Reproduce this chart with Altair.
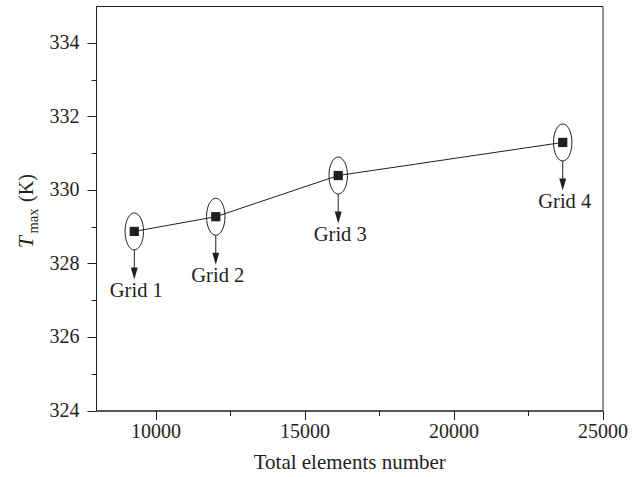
import altair as alt
import pandas as pd

# ---- data ----
elements = [9285, 12020, 16130, 23665]
tmax = [328.87, 329.27, 330.39, 331.29]
grid_labels = ["Grid 1", "Grid 2", "Grid 3", "Grid 4"]

x_ticks = [10000, 12500, 15000, 17500, 20000, 22500, 25000]
y_ticks = [324, 325, 326, 327, 328, 329, 330, 331, 332, 333, 334]

ytitle_parts = ["T", "max", "(K)"]

df = pd.DataFrame({"n": elements, "t": tmax, "label": grid_labels})

FONT = "Liberation Serif"
INK = "#231f20"

xscale = alt.Scale(domain=[8000, 25000], nice=False, zero=False)
yscale = alt.Scale(domain=[324, 335], nice=False, zero=False)

xaxis = alt.Axis(
    values=x_ticks, format="d", grid=False, title="Total elements number",
    labelExpr="datum.value % 5000 === 0 ? datum.label : ''",
    tickSize={"condition": {"test": "datum.value % 5000 === 0", "value": 9}, "value": 5},
    labelFlush=False, labelOverlap=False, labelPadding=2, titlePadding=10,
)
yaxis = alt.Axis(
    values=y_ticks, format="d", grid=False, title=None,
    labelExpr="datum.value % 2 === 0 ? datum.label : ''",
    tickSize={"condition": {"test": "datum.value % 2 === 0", "value": 9}, "value": 5},
    labelOverlap=False, labelPadding=8,
)

base = alt.Chart(df).encode(
    x=alt.X("n:Q", scale=xscale, axis=xaxis),
    y=alt.Y("t:Q", scale=yscale, axis=yaxis),
)

line = base.mark_line(color=INK, strokeWidth=1)
squares = base.mark_point(shape="square", filled=True, size=85, color=INK, opacity=1)
ellipse = base.mark_point(
    shape="M0,-1 A0.5,1 0 1,1 0,1 A0.5,1 0 1,1 0,-1 Z",
    size=1369, filled=False, color=INK, strokeWidth=1, opacity=1,
)
arrow_shaft = base.mark_rule(color=INK, strokeWidth=1, yOffset=18.5, y2Offset=37).encode(y2="t:Q")
arrow_head = base.mark_point(
    shape="M-0.58,-1 L0.58,-1 L0,1 Z", size=144, filled=True, color=INK,
    yOffset=42, opacity=1,
)
labels = base.mark_text(
    font=FONT, fontSize=20.5, color=INK, yOffset=59.5, dx=2, baseline="middle", align="center"
).encode(text="label:N")

tdf = pd.DataFrame({"part": ytitle_parts})
t_T = alt.Chart(tdf[tdf.part == ytitle_parts[0]]).mark_text(
    font=FONT, fontSize=22, fontStyle="italic", color=INK, angle=270,
    align="center", baseline="alphabetic",
).encode(text="part:N", x=alt.value(-63), y=alt.value(236))
t_sub = alt.Chart(tdf[tdf.part == ytitle_parts[1]]).mark_text(
    font=FONT, fontSize=14.5, color=INK, angle=270,
    align="center", baseline="alphabetic",
).encode(text="part:N", x=alt.value(-58), y=alt.value(215))
t_K = alt.Chart(tdf[tdf.part == ytitle_parts[2]]).mark_text(
    font=FONT, fontSize=20, color=INK, angle=270,
    align="center", baseline="alphabetic",
).encode(text="part:N", x=alt.value(-63), y=alt.value(182))

chart = alt.layer(
    line, ellipse, squares, arrow_shaft, arrow_head, labels, t_T, t_sub, t_K
).properties(
    width=506.5, height=404.5,
    padding={"left": 96, "top": 6, "right": 35.5, "bottom": 66.5},
    autosize="none", background="white",
).configure_view(
    stroke=INK, strokeWidth=1
).configure_axis(
    domainColor=INK, tickColor=INK, labelColor=INK, titleColor=INK,
    labelFont=FONT, titleFont=FONT, labelFontSize=20, titleFontSize=21,
    titleFontWeight="normal", domainWidth=1, tickWidth=1,
)

chart.save("out.html", embed_options={"renderer": "svg", "actions": False})
